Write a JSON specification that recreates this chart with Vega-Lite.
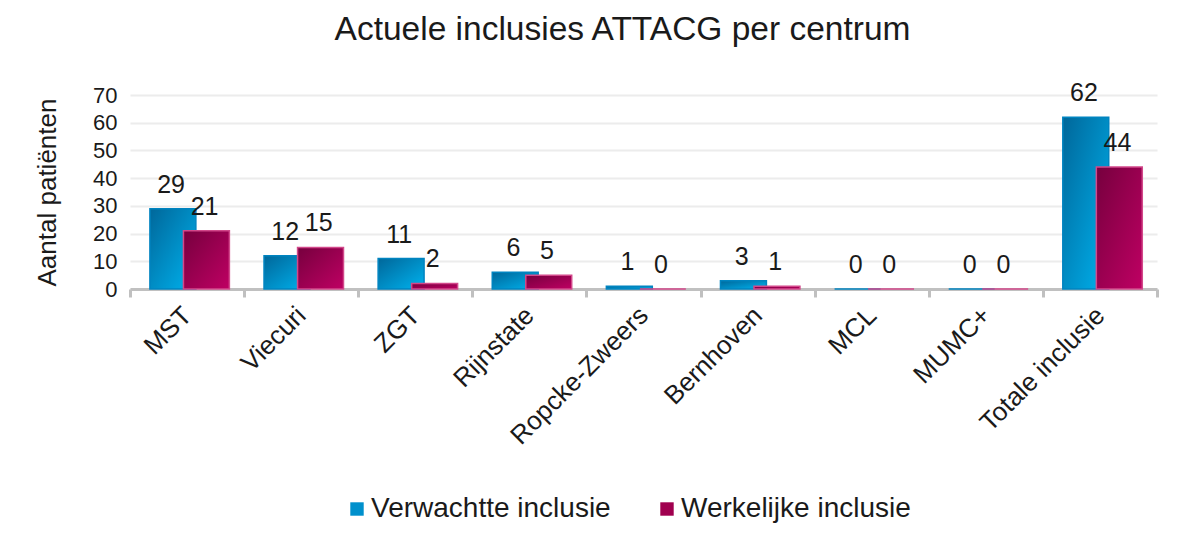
{
  "$schema": "https://vega.github.io/schema/vega-lite/v6.json",
  "width": 1027,
  "height": 194,
  "autosize": {"type": "none"},
  "padding": {"left": 130, "top": 95, "right": 25, "bottom": 246},
  "background": "white",
  "config": {
    "view": {"stroke": null},
    "font": "Liberation Sans"
  },
  "title": {
    "text": "Actuele inclusies ATTACG per centrum",
    "fontSize": 33.5,
    "fontWeight": "normal",
    "color": "#1a1a1a",
    "anchor": "middle",
    "dx": -21,
    "offset": 34
  },
  "data": {
    "values": [
      {"centrum": "MST", "series": "Verwachtte inclusie", "value": 29},
      {"centrum": "MST", "series": "Werkelijke inclusie", "value": 21},
      {"centrum": "Viecuri", "series": "Verwachtte inclusie", "value": 12},
      {"centrum": "Viecuri", "series": "Werkelijke inclusie", "value": 15},
      {"centrum": "ZGT", "series": "Verwachtte inclusie", "value": 11},
      {"centrum": "ZGT", "series": "Werkelijke inclusie", "value": 2},
      {"centrum": "Rijnstate", "series": "Verwachtte inclusie", "value": 6},
      {"centrum": "Rijnstate", "series": "Werkelijke inclusie", "value": 5},
      {"centrum": "Ropcke-Zweers", "series": "Verwachtte inclusie", "value": 1},
      {"centrum": "Ropcke-Zweers", "series": "Werkelijke inclusie", "value": 0},
      {"centrum": "Bernhoven", "series": "Verwachtte inclusie", "value": 3},
      {"centrum": "Bernhoven", "series": "Werkelijke inclusie", "value": 1},
      {"centrum": "MCL", "series": "Verwachtte inclusie", "value": 0},
      {"centrum": "MCL", "series": "Werkelijke inclusie", "value": 0},
      {"centrum": "MUMC+", "series": "Verwachtte inclusie", "value": 0},
      {"centrum": "MUMC+", "series": "Werkelijke inclusie", "value": 0},
      {"centrum": "Totale inclusie", "series": "Verwachtte inclusie", "value": 62},
      {"centrum": "Totale inclusie", "series": "Werkelijke inclusie", "value": 44}
    ]
  },
  "encoding": {
    "x": {
      "field": "centrum",
      "type": "nominal",
      "sort": null,
      "scale": {"paddingInner": 0, "paddingOuter": 0},
      "axis": {
        "title": null,
        "labelAngle": -45,
        "labelAlign": "right",
        "labelBaseline": "middle",
        "labelFontSize": 26,
        "labelColor": "#1a1a1a",
        "labelPadding": 14,
        "labelLimit": 0,
        "tickBand": "extent",
        "tickSize": 8,
        "tickWidth": 3,
        "tickColor": "#c0c0c0",
        "domainColor": "#c0c0c0",
        "domainWidth": 3,
        "grid": false
      }
    },
    "xOffset": {
      "field": "series",
      "type": "nominal",
      "scale": {"paddingInner": 0, "paddingOuter": 0.7015, "align": 0.872}
    },
    "y": {
      "field": "value",
      "type": "quantitative",
      "scale": {"domain": [0, 70]},
      "axis": {
        "values": [0, 10, 20, 30, 40, 50, 60, 70],
        "title": "Aantal patiënten",
        "titleFontSize": 26,
        "titleFontWeight": "normal",
        "titleColor": "#1a1a1a",
        "titlePadding": 32,
        "labelFontSize": 22,
        "labelColor": "#1a1a1a",
        "labelPadding": 13,
        "ticks": false,
        "domain": false,
        "grid": true,
        "gridColor": "#ececec",
        "gridWidth": 2
      }
    }
  },
  "layer": [
    {
      "mark": {"type": "bar", "width": {"band": 1.37}, "opacity": 0},
      "encoding": {
        "color": {
          "field": "series",
          "type": "nominal",
          "scale": {
            "domain": ["Verwachtte inclusie", "Werkelijke inclusie"],
            "range": ["#0090cc", "#a0004f"]
          },
          "legend": {
            "title": null,
            "orient": "none",
            "direction": "horizontal",
            "legendX": 213,
            "legendY": 400,
            "symbolType": "square",
            "symbolSize": 180,
            "symbolStrokeWidth": 0,
            "symbolOpacity": 1,
            "labelFontSize": 28,
            "labelColor": "#1a1a1a",
            "labelOffset": 0,
            "labelLimit": 0,
            "columnPadding": 42
          }
        }
      }
    },
    {
      "mark": {"type": "bar", "width": {"band": 1.37}, "strokeWidth": 1.5},
      "encoding": {
        "color": {
          "condition": {
            "test": "datum.series === 'Verwachtte inclusie'",
            "value": {"gradient": "linear", "x1": 0, "y1": 0, "x2": 1, "y2": 1, "stops": [{"offset": 0, "color": "#00679a"}, {"offset": 1, "color": "#00b2ee"}]}
          },
          "value": {"gradient": "linear", "x1": 0, "y1": 0, "x2": 1, "y2": 1, "stops": [{"offset": 0, "color": "#76003e"}, {"offset": 1, "color": "#bf0063"}]}
        },
        "stroke": {
          "condition": {"test": "datum.series === 'Verwachtte inclusie'", "value": "#0084c0"},
          "value": "#d2488a"
        }
      }
    },
    {
      "mark": {"type": "text", "baseline": "bottom", "dy": -11, "dx": -16.75, "fontSize": 25, "color": "#1a1a1a"},
      "encoding": {
        "text": {"field": "value", "type": "quantitative"}
      }
    }
  ]
}
